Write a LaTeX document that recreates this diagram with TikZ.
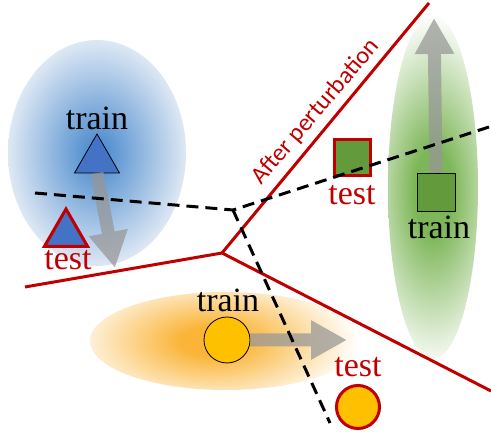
\documentclass[tikz,border=0pt]{standalone}
\usepackage{fontspec}
\setmainfont{Liberation Serif}
\newfontfamily\calib{Carlito}
\usetikzlibrary{shapes.geometric,arrows.meta}
\definecolor{bC}{RGB}{85,145,208}
\definecolor{bE}{RGB}{222,232,244}
\definecolor{gC}{RGB}{125,182,88}
\definecolor{oC}{RGB}{250,180,55}
\definecolor{dred}{RGB}{192,0,0}
\definecolor{trifill}{RGB}{68,114,196}
\definecolor{sqfill}{RGB}{98,154,60}
\definecolor{circfill}{RGB}{255,192,0}
\definecolor{arr}{RGB}{150,150,150}
\pgfdeclareradialshading{blueglow}{\pgfpoint{0bp}{0bp}}{color(0bp)=(bC); color(3bp)=(bC); color(25bp)=(bE); color(50bp)=(bE)}
\pgfdeclareradialshading{greenglow}{\pgfpoint{0bp}{0bp}}{color(0bp)=(gC); color(6bp)=(gC); color(25bp)=(white); color(50bp)=(white)}
\pgfdeclareradialshading{orangeglow}{\pgfpoint{0bp}{0bp}}{color(0bp)=(oC); color(5bp)=(oC); color(24bp)=(white); color(50bp)=(white)}
\begin{document}
\begin{tikzpicture}[x=1pt,y=-1pt,
  lbl/.style={font=\fontsize{34}{34}\selectfont, inner sep=0pt},
  redlbl/.style={lbl, text=dred},
  trainedge/.style={draw=black, line width=0.8pt},
  testedge/.style={draw=dred, line width=3pt},
  tri/.style={regular polygon, regular polygon sides=3, fill=trifill, inner sep=0pt, outer sep=0pt},
  sq/.style={rectangle, fill=sqfill, inner sep=0pt, outer sep=0pt},
  circ/.style={circle, fill=circfill, inner sep=0pt, outer sep=0pt},
  bigarrow/.style={draw=arr, line width=13pt, -{Triangle[width=37pt,length=36pt]}},
  redline/.style={draw=dred, line width=3pt},
  dashline/.style={draw=black, line width=3pt, dash pattern=on 12pt off 7pt}]
\useasboundingbox (0,0) rectangle (491,435);

% glows
\shade[shading=blueglow] (97,153) ellipse [x radius=89, y radius=113];
\begin{scope}
  \clip (433,187) ellipse [x radius=45, y radius=172];
  \shade[shading=greenglow] (433,192) ellipse [x radius=80, y radius=178];
\end{scope}
\begin{scope}
  \clip (226,341) ellipse [x radius=136, y radius=49];
  \shade[shading=orangeglow] (212,341) ellipse [x radius=152, y radius=72];
\end{scope}

% items
\node[tri, trainedge, minimum size=52pt] (trainB) at (97,160) {};
\node[tri, testedge, minimum size=50pt] (testB) at (66,234) {};
\node[sq, trainedge, minimum size=38pt] (trainG) at (436,192) {};
\node[sq, testedge, minimum size=36pt] (testG) at (352,158) {};
\node[circ, trainedge, minimum size=46pt] (trainO) at (227,340) {};
\node[circ, testedge, minimum size=43pt] (testO) at (358,407) {};

% arrows
\coordinate (tipB) at (115,268);
\coordinate (tipG) at (434,18);
\coordinate (tipO) at (347,340);
\begin{scope}[transparency group, opacity=0.72]
  \draw[bigarrow] (trainB.south) -- (tipB);
\end{scope}
\begin{scope}[transparency group, opacity=0.72]
  \draw[bigarrow] (trainG.north) -- (tipG);
\end{scope}
\begin{scope}[transparency group, opacity=0.72]
  \draw[bigarrow] (trainO.east) -- (tipO);
\end{scope}

% red boundary (after perturbation)
\coordinate (J) at (222,253);
\coordinate (RL) at (25,287);
\coordinate (RR) at (491,391);
\coordinate (RT) at (429,3);
\draw[redline] (RL) -- (J) -- (RR);
\draw[redline] (J) -- (RT);

% dashed boundary
\coordinate (K) at (233,210);
\coordinate (DL) at (35,193);
\coordinate (DR) at (489,127);
\coordinate (DB) at (330,423);
\draw[dashline] (DL) -- (K) -- (DR);
\draw[dashline] (K) -- (DB);

% labels
\node[lbl] (ltrainB) at (97,118) {train};
\node[redlbl] (ltestB) at (68,260) {test};
\node[redlbl] (ltestG) at (352,195) {test};
\node[lbl] (ltrainG) at (439,227) {train};
\node[lbl] (ltrainO) at (228,300) {train};
\node[redlbl] (ltestO) at (358,367) {test};
\node[font=\calib\fontsize{24.5}{24.5}\selectfont, text=dred, rotate=49.5, inner sep=0pt] (lafter) at (316,112) {After perturbation};
\end{tikzpicture}
\end{document}
